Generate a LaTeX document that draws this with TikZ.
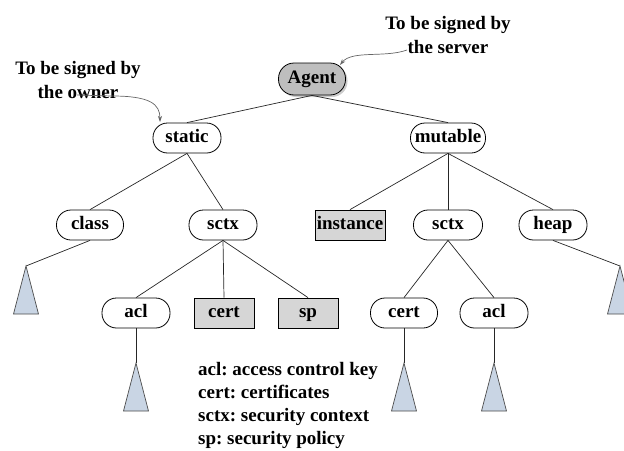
\documentclass[tikz,border=0pt]{standalone}
\usepackage{fontspec}
\setmainfont{Liberation Serif}
\usetikzlibrary{arrows.meta,shadows}
\definecolor{agentgray}{HTML}{BEBEBE}
\definecolor{leafgray}{HTML}{D6D6D6}
\definecolor{subtree}{HTML}{C9D5E4}
\frenchspacing
\begin{document}
\begin{tikzpicture}[x=1pt,y=1pt,
  font=\fontsize{19}{24}\selectfont\bfseries,
  pill/.style={draw=black, line width=0.8pt, rounded corners=14.5pt,
    minimum height=30pt, minimum width=68pt, inner sep=0pt, fill=white,
    text height=13pt, text depth=4pt},
  leafbox/.style={draw=black, line width=0.8pt, fill=leafgray,
    minimum height=30pt, minimum width=60pt, inner sep=0pt,
    text height=13pt, text depth=4pt},
  edge/.style={draw=black!85, line width=0.7pt},
  tri/.style={draw=black!70, line width=0.7pt, fill=subtree},
  note/.style={gray!80!black, line width=0.7pt, -{Stealth[length=6pt,width=4pt]}},
  legendline/.style={anchor=base west, inner sep=0pt}
]
\useasboundingbox (0,0) rectangle (624,-450);

% root and first level
\node[pill, minimum width=67pt, minimum height=32pt, rounded corners=15.5pt, fill=agentgray,
  drop shadow={shadow xshift=2pt, shadow yshift=-2pt, fill=black!20, opacity=1}] (agent) at (312,-79) {Agent};
\node[pill] (static) at (187,-138) {static};
\node[pill, minimum width=75pt] (mutable) at (448,-138) {mutable};

% second level
\node[pill, minimum width=67pt] (class) at (90,-225) {class};
\node[pill] (sctxL) at (223,-225) {sctx};
\node[leafbox, minimum width=70pt] (instance) at (350,-225) {instance};
\node[pill, minimum width=69pt] (sctxR) at (448,-225) {sctx};
\node[pill] (heap) at (553,-225) {heap};

% third level
\node[pill] (aclL) at (136,-313) {acl};
\node[leafbox] (certL) at (224,-313) {cert};
\node[leafbox] (sp) at (308,-313) {sp};
\node[pill, minimum width=67pt] (certR) at (404,-313) {cert};
\node[pill] (aclR) at (494,-313) {acl};

% apexes of the collapsed subtrees
\coordinate (t1) at (26,-266);
\coordinate (t2) at (136,-363);
\coordinate (t3) at (404,-363);
\coordinate (t4) at (494,-363);
\coordinate (t5) at (620,-266);

% tree edges
\draw[edge] (agent.south) -- (static.north);
\draw[edge] (agent.south) -- (mutable.north);
\draw[edge] (static.south) -- (class.north);
\draw[edge] (static.south) -- (sctxL.north);
\draw[edge] (mutable.south) -- (instance.north);
\draw[edge] (mutable.south) -- (sctxR.north);
\draw[edge] (mutable.south) -- (heap.north);
\draw[edge] (sctxL.south) -- (aclL.north);
\draw[edge] (sctxL.south) -- (certL.north);
\draw[edge] (sctxL.south) -- (sp.north);
\draw[edge] (sctxR.south) -- (certR.north);
\draw[edge] (sctxR.south) -- (aclR.north);
\draw[edge] (class.south) -- (t1);
\draw[edge] (aclL.south) -- (t2);
\draw[edge] (certR.south) -- (t3);
\draw[edge] (aclR.south) -- (t4);
\draw[edge] (heap.south) -- (t5);

% collapsed subtrees
\foreach \t in {t1,t2,t3,t4,t5}
  \draw[tri] (\t) -- ++(-12.5,-48) -- ++(25,0) -- cycle;

% signing annotations
\node[align=center] (owner) at (78,-80) {To be signed by\\the owner};
\node[align=center] (server) at (448,-35) {To be signed by\\the server};
\coordinate (ownerfoot) at (77,-95);
\coordinate (serverfoot) at (407,-50);
\draw[note] (ownerfoot) -- (112,-96) .. controls (150,-96) and (160,-104) .. (160,-122);
\draw[note] (serverfoot) .. controls (385,-58) and (352,-50) .. (340,-65);

% legend
\node[legendline] (leg1) at (198,-375) {acl: access control key};
\node[legendline] (leg2) at (198,-398) {cert: certificates};
\node[legendline] (leg3) at (198,-421) {sctx: security context};
\node[legendline] (leg4) at (198,-444) {sp: security policy};
\end{tikzpicture}
\end{document}
